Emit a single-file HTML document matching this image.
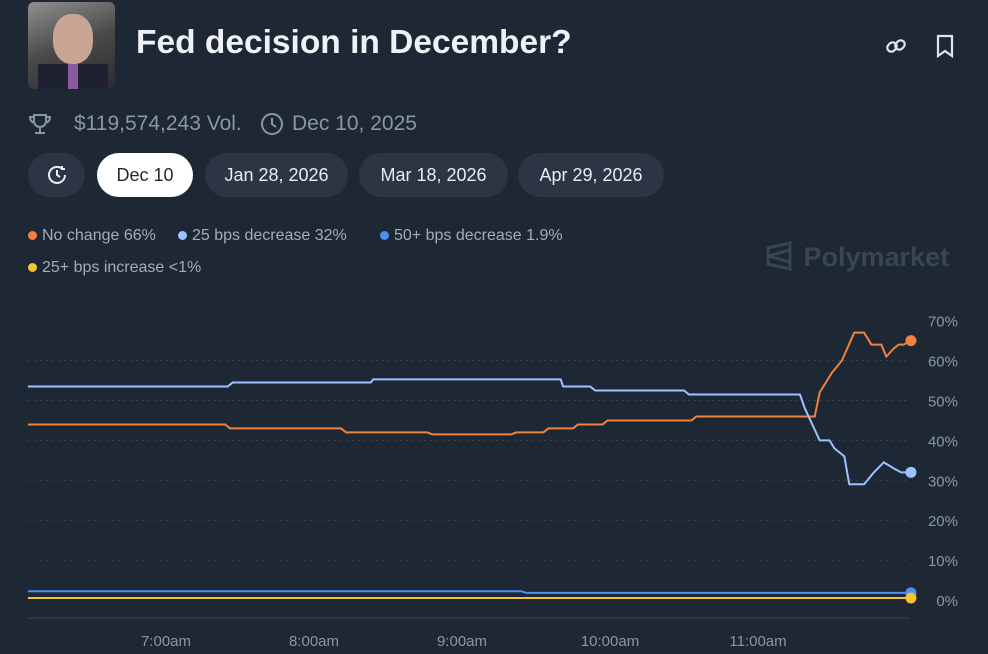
<!DOCTYPE html>
<html><head><meta charset="utf-8"><style>
body{margin:0;width:988px;height:654px;background:#1e2834;font-family:"Liberation Sans",sans-serif;overflow:hidden;position:relative;color:#fff}
.abs{position:absolute}
.btn{position:absolute;top:153px;height:44px;border-radius:22px;background:#2b3543;color:#e8edf2;font-size:18px;line-height:44px;text-align:center}
.leg{position:absolute;font-size:16px;color:#a3adba}
.dot{display:inline-block;width:9px;height:9px;border-radius:50%;margin-right:5px;vertical-align:0}
</style></head><body>
<div class="abs" style="left:28px;top:2px;width:87px;height:87px;border-radius:6px;background:linear-gradient(160deg,#8f8f8f,#4a4a4a 50%,#2a2a30);overflow:hidden">
<div style="position:absolute;left:25px;top:12px;width:40px;height:50px;border-radius:45%;background:#c9a593"></div>
<div style="position:absolute;left:10px;top:62px;width:70px;height:30px;background:#1e2230"></div>
<div style="position:absolute;left:40px;top:62px;width:10px;height:25px;background:#8a5aa0"></div>
</div>
<div class="abs" style="left:136px;top:24px;font-size:33.5px;font-weight:bold;color:#eef2f6">Fed decision in December?</div>
<svg class="abs" style="left:884px;top:34px" width="24" height="24" viewBox="0 0 24 24" fill="none" stroke="#dfe5ec" stroke-width="2.2"><rect x="3" y="9" width="10" height="8" rx="4" transform="rotate(-45 8 13)"/><rect x="11" y="7" width="10" height="8" rx="4" transform="rotate(-45 16 11)"/></svg>
<svg class="abs" style="left:934px;top:34px" width="22" height="24" viewBox="0 0 22 24" fill="none" stroke="#dfe5ec" stroke-width="2.2"><path d="M4 2h14v20l-7-5-7 5z"/></svg>
<svg class="abs" style="left:28px;top:112px" width="24" height="24" viewBox="0 0 24 24" fill="none" stroke="#8a96a6" stroke-width="2"><path d="M6 3h12v6a6 6 0 0 1-12 0zM6 5H2q0 5 5 6M18 5h4q0 5-5 6M12 15v5M7 21h10"/></svg>
<div class="abs" style="left:74px;top:112px;font-size:21px;color:#8a96a6">$119,574,243 Vol.</div>
<svg class="abs" style="left:260px;top:112px" width="24" height="24" viewBox="0 0 24 24" fill="none" stroke="#8a96a6" stroke-width="2"><circle cx="12" cy="12" r="10"/><path d="M12 6v6l4 3"/></svg>
<div class="abs" style="left:292px;top:112px;font-size:21px;color:#8a96a6">Dec 10, 2025</div>
<div class="btn" style="left:28px;width:57px"><svg width="24" height="24" viewBox="0 0 24 24" style="margin-top:10px" fill="none" stroke="#e8edf2" stroke-width="2"><path d="M20 12a8 8 0 1 1-3-6.3M17 3v3h3"/><path d="M12 7v5l3 2"/></svg></div>
<div class="btn" style="left:97px;width:96px;background:#fff;color:#1e2834">Dec 10</div>
<div class="btn" style="left:205px;width:143px">Jan 28, 2026</div>
<div class="btn" style="left:359px;width:149px">Mar 18, 2026</div>
<div class="btn" style="left:518px;width:146px">Apr 29, 2026</div>
<div class="leg" style="left:28px;top:227px"><span class="dot" style="background:#f0813f"></span>No change 66%</div>
<div class="leg" style="left:178px;top:227px"><span class="dot" style="background:#9cc3ff"></span>25 bps decrease 32%</div>
<div class="leg" style="left:380px;top:227px"><span class="dot" style="background:#4d8ff5"></span>50+ bps decrease 1.9%</div>
<div class="leg" style="left:28px;top:259px"><span class="dot" style="background:#f5c531"></span>25+ bps increase &lt;1%</div>
<div class="abs" style="left:764px;top:240px;font-size:27px;font-weight:bold;color:#3a4554">
<svg width="32" height="32" viewBox="0 0 32 32" style="vertical-align:-6px" fill="none" stroke="#3a4554" stroke-width="3"><path d="M4 8l22-5v26L4 24zM4 16l22-6M4 16l22 6"/></svg> Polymarket</div>
<svg id="chart" class="abs" style="left:0;top:300px" width="988" height="354"></svg>
<script>
const timeMin=[60,120,180,240,300];
const timeLabels=["7:00am","8:00am","9:00am","10:00am","11:00am"];
const yTicks=[0,10,20,30,40,50,60,70];
const tNoChange=[4,84,86,131,133,166,168,200,202,213,215,225,227,237,239,273,275,291,293,323,325,330,334,339,341,343,346,350,352,355,357,359,362];
const vNoChange=[44,44,43,43,42,42,41.5,41.5,42,42,43,43,44,44,45,45,46,46,46,46,52,57,60,67,67,67,64,64,61,63,64,64,65];
const tDec25=[4,85,87,143,144,220,221,232,234,244,246,270,272,317,319,325,329,331,335,337,343,347,351,355,358,362];
const vDec25=[53.5,53.5,54.5,54.5,55.3,55.3,53.5,53.5,52.5,52.5,52.5,52.5,51.5,51.5,48,40,40,38,36,29,29,32,34.5,33,32,32];
const tDec50=[4,204,206,362];
const vDec50=[2.2,2.2,1.8,1.8];
const tInc=[4,362];
const vInc=[0.5,0.5];
const svg=document.getElementById('chart');const NS='http://www.w3.org/2000/svg';
const X=t=>166+(t-60)*2.4667;
const Y=v=>300-v*3.99;
function mk(tag,attrs){const e=document.createElementNS(NS,tag);for(const k in attrs)e.setAttribute(k,attrs[k]);svg.appendChild(e);return e;}
yTicks.forEach(v=>{
 if(v>0&&v<70){const g=mk('line',{x1:28,x2:910,y1:Y(v),y2:Y(v),stroke:'#3a4452','stroke-dasharray':'2 4'});
 
 }
 const t=mk('text',{x:958,y:Y(v)+6,'text-anchor':'end',fill:'#8a96a6','font-size':'15','font-family':'Liberation Sans'});t.textContent=v+'%';
 
 
});
const ax=mk('line',{x1:28,x2:910,y1:318,y2:318,stroke:'#3a4452'});


timeMin.forEach((m,i)=>{const t=mk('text',{x:X(m),y:346,'text-anchor':'middle',fill:'#8a96a6','font-size':'15','font-family':'Liberation Sans'});t.textContent=timeLabels[i];
 
 });
function series(ts,vs,c,name){
 const p=mk('polyline',{points:ts.map((t,i)=>X(t)+','+Y(vs[i])).join(' '),fill:'none',stroke:c,'stroke-width':2});
 
 
 const d=mk('circle',{cx:X(ts[ts.length-1]),cy:Y(vs[vs.length-1]),r:5.5,fill:c});
 
 
}
series(tDec50,vDec50,'#4d8ff5','50bps-decrease');
series(tInc,vInc,'#f5c531','25bps-increase');
series(tNoChange,vNoChange,'#f0813f','no-change');
series(tDec25,vDec25,'#9cc3ff','25bps-decrease');
</script>
</body></html>
